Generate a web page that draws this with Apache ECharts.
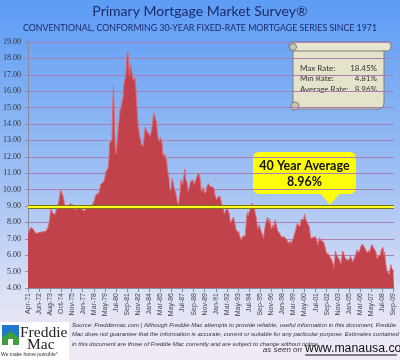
<!DOCTYPE html>
<html><head><meta charset="utf-8">
<script src="https://cdn.jsdelivr.net/npm/echarts@6/dist/echarts.min.js"></script>
<style>html,body{margin:0;padding:0;}#c{width:400px;height:360px;}</style>
</head><body><div id="c"></div>
<script>
// Monthly 30-year fixed rates, Apr-1971 .. Oct-2009
const startYear = 1971, startMonth = 3; // April (0-based)
const rates = [
  7.31,7.43,7.53,7.60,7.70,7.69,7.63,7.55,7.48,                 // 1971
  7.44,7.32,7.29,7.29,7.37,7.37,7.40,7.40,7.43,7.45,7.44,7.44,  // 1972
  7.44,7.44,7.46,7.54,7.65,7.73,8.05,8.50,8.82,8.77,8.58,8.54,  // 1973
  8.54,8.46,8.41,8.58,8.97,9.09,9.28,9.59,9.96,9.98,9.79,9.62,  // 1974
  9.43,9.10,8.89,8.82,8.91,8.89,8.89,8.94,9.13,9.22,9.15,9.10,  // 1975
  9.02,8.81,8.76,8.73,8.76,8.85,8.93,9.00,8.98,8.92,8.81,8.79,  // 1976
  8.72,8.67,8.69,8.75,8.83,8.86,8.94,8.94,8.90,8.92,8.92,8.96,  // 1977
  9.01,9.15,9.20,9.36,9.57,9.71,9.74,9.78,9.76,9.86,10.11,10.35,// 1978
  10.39,10.41,10.43,10.50,10.69,11.04,11.09,11.09,11.30,11.64,12.83,12.90, // 1979
  12.88,13.04,15.28,16.32,14.26,12.71,12.19,12.56,13.20,13.79,14.21,14.79, // 1980
  14.90,15.13,15.40,15.58,16.40,16.70,16.83,17.29,18.16,18.45,17.83,16.92, // 1981
  17.40,17.60,17.16,16.89,16.68,16.70,16.82,16.27,15.43,14.61,13.83,13.62, // 1982
  13.25,13.04,12.80,12.78,12.63,12.87,13.42,13.81,13.73,13.54,13.44,13.42, // 1983
  13.37,13.23,13.39,13.65,13.94,14.42,14.67,14.47,14.35,14.13,13.64,13.18, // 1984
  13.08,12.92,13.17,13.20,12.91,12.22,12.03,12.19,12.19,12.14,11.78,11.26, // 1985
  10.88,10.71,10.08,9.94,10.14,10.68,10.51,10.20,10.01,9.98,9.70,9.32,     // 1986
  9.20,9.08,9.04,9.83,10.60,10.54,10.28,10.33,10.89,11.26,10.65,10.64,     // 1987
  10.38,9.89,9.93,10.20,10.46,10.46,10.43,10.60,10.48,10.30,10.27,10.61,   // 1988
  10.73,10.65,11.03,11.05,10.77,10.20,9.88,9.99,10.13,9.95,9.77,9.74,      // 1989
  9.90,10.20,10.27,10.37,10.48,10.16,10.04,10.10,10.18,10.18,10.01,9.67,   // 1990
  9.64,9.37,9.50,9.49,9.47,9.62,9.58,9.24,9.01,8.86,8.71,8.50,             // 1991
  8.43,8.76,8.94,8.85,8.67,8.51,8.13,7.98,7.92,8.09,8.31,8.22,             // 1992
  8.02,7.68,7.50,7.47,7.47,7.42,7.21,7.11,6.92,6.83,7.16,7.17,             // 1993
  7.06,7.15,7.68,8.32,8.60,8.40,8.61,8.51,8.64,8.93,9.17,9.20,             // 1994
  9.15,8.83,8.46,8.32,7.96,7.57,7.61,7.86,7.64,7.48,7.38,7.20,             // 1995
  7.03,7.08,7.62,7.93,8.07,8.32,8.25,8.00,8.23,7.92,7.62,7.60,             // 1996
  7.82,7.65,7.90,8.14,7.94,7.69,7.50,7.48,7.43,7.29,7.21,7.10,             // 1997
  6.99,7.04,7.13,7.14,7.14,7.00,6.95,6.92,6.72,6.71,6.87,6.72,             // 1998
  6.79,6.81,7.04,6.92,7.15,7.55,7.63,7.94,7.82,7.85,7.74,7.91,             // 1999
  8.21,8.33,8.24,8.15,8.52,8.29,8.15,8.03,7.91,7.80,7.75,7.38,             // 2000
  7.03,7.05,6.95,7.08,7.15,7.16,7.13,6.95,6.82,6.62,6.66,7.07,             // 2001
  7.00,6.89,7.01,6.99,6.81,6.65,6.49,6.29,6.09,6.11,6.07,6.05,             // 2002
  5.92,5.84,5.75,5.81,5.48,5.23,5.63,6.26,6.15,5.95,5.93,5.88,             // 2003
  5.74,5.64,5.45,5.83,6.27,6.29,6.06,5.87,5.75,5.72,5.73,5.75,             // 2004
  5.71,5.63,5.93,5.86,5.72,5.58,5.70,5.82,5.77,6.07,6.33,6.27,             // 2005
  6.15,6.25,6.32,6.51,6.60,6.68,6.76,6.52,6.40,6.36,6.24,6.14,             // 2006
  6.22,6.29,6.16,6.18,6.26,6.66,6.70,6.57,6.38,6.38,6.21,6.10,             // 2007
  5.76,5.92,5.97,5.92,6.04,6.32,6.43,6.48,6.04,6.20,6.09,5.33,             // 2008
  5.06,5.13,5.00,4.81,4.86,5.42,5.22,5.19,5.06,4.95                       // 2009
];
const tickLabels = ['Apr-71','Jun-72','Aug-73','Oct-74','Nov-75','Jan-77','Mar-78','May-79','Jul-80','Sep-81','Nov-82','Jan-84','Mar-85','May-86','Jul-87','Sep-88','Nov-89','Jan-91','Mar-92','May-93','Jul-94','Sep-95','Nov-96','Jan-98','Mar-99','May-00','Jul-01','Sep-02','Nov-03','Jan-05','Mar-06','May-07','Jul-08','Sep-09'];
const statLabels = ['Max Rate:','Min Rate:','Average Rate:'];
const statValues = ['18.45%','4.81%','8.96%'];
const avgRate = 8.96;
const yMin = 4, yMax = 19, yStep = 1;

const monNames = ['Jan','Feb','Mar','Apr','May','Jun','Jul','Aug','Sep','Oct','Nov','Dec'];
const months = rates.map((_, i) => {
  const m = (startMonth + i) % 12, y = startYear + Math.floor((startMonth + i) / 12);
  return monNames[m] + '-' + String(y % 100).padStart(2, '0');
});
const tickSet = new Set(tickLabels);
const showTick = (idx, val) => tickSet.has(val);

const chart = echarts.init(document.getElementById('c'), null, {renderer: 'canvas'});
const txt = '#1c2a6b';
const small = {font: 'italic 6px "Liberation Sans"', fill: '#333', verticalAlign: 'middle'};
chart.setOption({
  animation: false,
  backgroundColor: {type: 'linear', x: 0, y: 0, x2: 0, y2: 1, colorStops: [
    {offset: 0, color: '#5c9cf5'}, {offset: 0.5, color: '#a0c0f3'}, {offset: 0.82, color: '#dde2f6'}, {offset: 1, color: '#f3eaf6'}]},
  grid: {left: 28, right: 6, top: 42, bottom: 72, show: true, borderWidth: 0, backgroundColor: 'transparent'},
  xAxis: {
    type: 'category', data: months, boundaryGap: false,
    axisLine: {lineStyle: {color: '#8a8a9a'}},
    axisTick: {interval: showTick, length: 4, lineStyle: {color: '#8a8a9a'}},
    axisLabel: {interval: showTick, rotate: 90, fontSize: 7, color: '#444', fontFamily: 'Liberation Sans', margin: 5},
    splitLine: {show: false}
  },
  yAxis: {
    type: 'value', min: yMin, max: yMax, interval: yStep,
    axisLine: {show: true, lineStyle: {color: '#8a8a9a'}},
    axisTick: {show: true, length: 3, lineStyle: {color: '#a880b4'}},
    axisLabel: {fontSize: 8, color: '#333', fontFamily: 'Liberation Serif', margin: 7, formatter: v => v.toFixed(2)},
    splitLine: {lineStyle: {color: '#a880b4', width: 1}}
  },
  series: [{
    type: 'line', data: rates, symbol: 'none',
    lineStyle: {color: '#dc6a74', width: 1},
    areaStyle: {color: '#c2424b', opacity: 1},
    markLine: {
      silent: true, symbol: 'none', label: {show: false},
      data: [
        {yAxis: avgRate, lineStyle: {color: '#77741c', width: 4, type: 'solid'}},
        {yAxis: avgRate, lineStyle: {color: '#ffff1a', width: 2.2, type: 'solid'}}
      ]
    }
  }],
  graphic: [
    {type: 'text', left: 'center', top: 4, style: {text: 'Primary Mortgage Market Survey®', font: '14px Lato', fill: txt}},
    {type: 'text', left: 'center', top: 24, style: {text: 'CONVENTIONAL, CONFORMING 30-YEAR FIXED-RATE MORTGAGE SERIES SINCE 1971', font: '8.8px Lato', fill: txt}},
    // scroll
    {type: 'rect', shape: {x: 293, y: 48, width: 91, height: 61, r: [0, 0, 6, 0]}, style: {fill: '#e6e3cb', stroke: '#7d7d7d', lineWidth: 1}},
    {type: 'rect', shape: {x: 289, y: 42, width: 102, height: 9, r: 4.5}, style: {fill: '#e9e6cf', stroke: '#7d7d7d', lineWidth: 1}},
    {type: 'circle', shape: {cx: 293, cy: 47, r: 3.5}, style: {fill: '#cbc7ad', stroke: '#7d7d7d', lineWidth: 1}},
    {type: 'circle', shape: {cx: 295, cy: 106, r: 4}, style: {fill: '#cbc7ad', stroke: '#7d7d7d', lineWidth: 1}},
    ...statLabels.map((s, i) => ({type: 'text', x: 300, y: 68 + i * 10.5, style: {text: s, font: '8px Lato', fill: '#333', verticalAlign: 'middle'}})),
    ...statValues.map((s, i) => ({type: 'text', x: 377, y: 68 + i * 10.5, style: {text: s, font: '8px Lato', fill: '#333', align: 'right', verticalAlign: 'middle'}})),
    // callout
    {type: 'rect', shape: {x: 253, y: 152, width: 103, height: 42, r: 6}, style: {fill: '#fdfd0a'}},
    {type: 'polygon', shape: {points: [[320, 193], [340, 193], [330, 205]]}, style: {fill: '#fdfd0a'}},
    {type: 'text', x: 304.5, y: 166, style: {text: '40 Year Average', font: 'bold 12.5px Lato', fill: '#111', align: 'center', verticalAlign: 'middle'}},
    {type: 'text', x: 304.5, y: 182, style: {text: '8.96%', font: 'bold 12.5px Lato', fill: '#111', align: 'center', verticalAlign: 'middle'}},
    // logo
    {type: 'rect', shape: {x: 0, y: 322, width: 69, height: 38}, style: {fill: '#ffffff'}},
    {type: 'rect', shape: {x: 2, y: 325, width: 17, height: 16}, style: {fill: '#1f78c9'}},
    {type: 'polygon', shape: {points: [[2, 345], [2, 338], [10.5, 331], [19, 338], [19, 345]]}, style: {fill: '#3f9d3a'}},
    {type: 'rect', shape: {x: 8, y: 339, width: 5, height: 6}, style: {fill: '#ffffff'}},
    {type: 'text', x: 20, y: 333, style: {text: 'Freddie', font: '15.5px "Liberation Serif"', fill: '#222', verticalAlign: 'middle'}},
    {type: 'text', x: 27, y: 345, style: {text: 'Mac', font: '15.5px "Liberation Serif"', fill: '#222', verticalAlign: 'middle'}},
    {type: 'text', x: 1, y: 355, style: {text: 'We make home possible°', font: '5px "Liberation Sans"', fill: '#333', verticalAlign: 'middle'}},
    // source text
    {type: 'text', x: 72, y: 325, style: Object.assign({}, small, {text: 'Source: Freddiemac.com | Although Freddie Mac attempts to provide reliable, useful information in this document, Freddie'})},
    {type: 'text', x: 72, y: 334.5, style: Object.assign({}, small, {text: 'Mac does not guarantee that the information is accurate, current or suitable for any particular purpose. Estimates contained'})},
    {type: 'text', x: 72, y: 344, style: Object.assign({}, small, {text: 'in this document are those of Freddie Mac currently and are subject to change without notice.'})},
    {type: 'text', x: 302, y: 354, style: {text: 'as seen on', font: 'italic 8px "Liberation Sans"', fill: '#333', align: 'right', verticalAlign: 'bottom'}},
    {type: 'text', x: 305, y: 355, style: {text: 'www.manausa.com', font: '12.3px "Liberation Sans"', fill: '#111', verticalAlign: 'bottom'}},
    {type: 'line', shape: {x1: 305, y1: 355, x2: 397, y2: 355}, style: {stroke: '#111', lineWidth: 1}}
  ]
});
</script></body></html>
